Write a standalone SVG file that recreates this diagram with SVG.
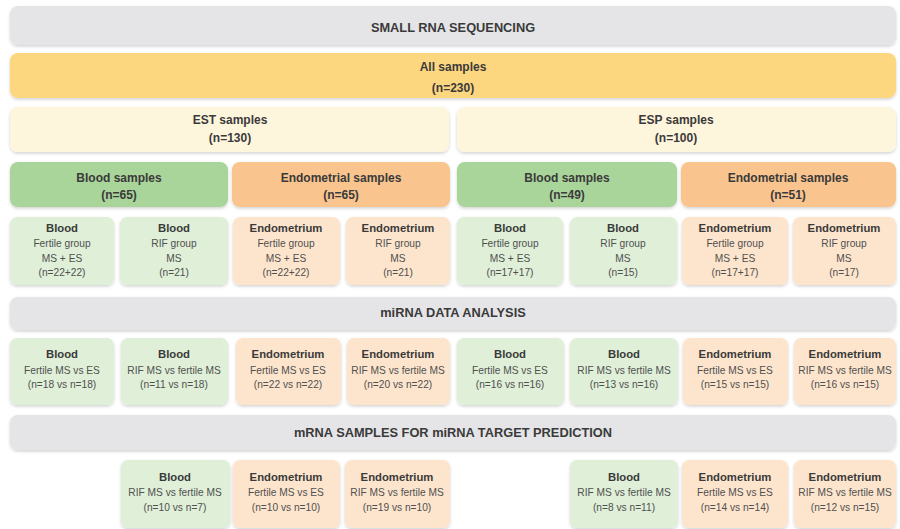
<svg xmlns="http://www.w3.org/2000/svg" width="900" height="529" viewBox="0 0 900 529">
<defs>
<filter id="sh" x="-5%" y="-20%" width="110%" height="140%">
<feDropShadow dx="0" dy="1.5" stdDeviation="1.5" flood-color="#000" flood-opacity="0.18"/>
</filter>
<style>
rect{filter:url(#sh)}
.gray{fill:#E5E5E8}
.all{fill:#FDD680}
.grp{fill:#FEF5DD}
.bl{fill:#A9D49A}
.en{fill:#F9C48E}
.lbl{fill:#DFEFD8}
.len{fill:#FDE5CD}
text{font-family:"Liberation Sans",Arial,sans-serif;text-anchor:middle;fill:#3a3a3a}
.h{font-weight:bold;font-size:12.8px}
.t{font-weight:bold;font-size:12px}
.b{font-weight:bold;font-size:11.3px}
.r{font-size:10.2px;fill:#505050}
</style>
</defs>
<rect width="900" height="529" fill="#fff" style="filter:none"/>
<g id="connectors"/>
<g id="small-rna-sequencing"><rect class="gray" x="10" y="6" width="886" height="39" rx="8"/><text class="h" x="453" y="32">SMALL RNA SEQUENCING</text></g>
<g id="all-samples"><rect class="all" x="10" y="53" width="886" height="45" rx="8"/><text class="t" x="453" y="71">All samples</text><text class="t" x="453" y="92">(n=230)</text></g>
<g id="est-samples"><rect class="grp" x="10" y="107" width="439" height="45" rx="8"/><text class="t" x="230" y="124">EST samples</text><text class="t" x="230" y="142">(n=130)</text></g>
<g id="esp-samples"><rect class="grp" x="457" y="107" width="439" height="45" rx="8"/><text class="t" x="676" y="124">ESP samples</text><text class="t" x="676" y="142">(n=100)</text></g>

<g id="est-blood-samples"><rect class="bl" x="10" y="162" width="218" height="45" rx="8"/><text class="t" x="119" y="182">Blood samples</text><text class="t" x="119" y="199">(n=65)</text></g>
<g id="est-endometrial-samples"><rect class="en" x="232" y="162" width="218" height="45" rx="8"/><text class="t" x="341" y="182">Endometrial samples</text><text class="t" x="341" y="199">(n=65)</text></g>
<g id="esp-blood-samples"><rect class="bl" x="457" y="162" width="220" height="45" rx="8"/><text class="t" x="567" y="182">Blood samples</text><text class="t" x="567" y="199">(n=49)</text></g>
<g id="esp-endometrial-samples"><rect class="en" x="681" y="162" width="215" height="45" rx="8"/><text class="t" x="788" y="182">Endometrial samples</text><text class="t" x="788" y="199">(n=51)</text></g>

<g id="est-blood-fertile"><rect class="lbl" x="10" y="217" width="104" height="68" rx="7"/><text class="b" x="62" y="232">Blood</text><text class="r" x="62" y="247">Fertile group</text><text class="r" x="62" y="262">MS + ES</text><text class="r" x="62" y="276">(n=22+22)</text></g>
<g id="est-blood-rif"><rect class="lbl" x="120" y="217" width="108" height="68" rx="7"/><text class="b" x="174" y="232">Blood</text><text class="r" x="174" y="247">RIF group</text><text class="r" x="174" y="262">MS</text><text class="r" x="174" y="276">(n=21)</text></g>
<g id="est-endo-fertile"><rect class="len" x="233" y="217" width="107" height="68" rx="7"/><text class="b" x="286" y="232">Endometrium</text><text class="r" x="286" y="247">Fertile group</text><text class="r" x="286" y="262">MS + ES</text><text class="r" x="286" y="276">(n=22+22)</text></g>
<g id="est-endo-rif"><rect class="len" x="346" y="217" width="104" height="68" rx="7"/><text class="b" x="398" y="232">Endometrium</text><text class="r" x="398" y="247">RIF group</text><text class="r" x="398" y="262">MS</text><text class="r" x="398" y="276">(n=21)</text></g>
<g id="esp-blood-fertile"><rect class="lbl" x="457" y="217" width="106" height="68" rx="7"/><text class="b" x="510" y="232">Blood</text><text class="r" x="510" y="247">Fertile group</text><text class="r" x="510" y="262">MS + ES</text><text class="r" x="510" y="276">(n=17+17)</text></g>
<g id="esp-blood-rif"><rect class="lbl" x="570" y="217" width="107" height="68" rx="7"/><text class="b" x="623" y="232">Blood</text><text class="r" x="623" y="247">RIF group</text><text class="r" x="623" y="262">MS</text><text class="r" x="623" y="276">(n=15)</text></g>
<g id="esp-endo-fertile"><rect class="len" x="682" y="217" width="106" height="68" rx="7"/><text class="b" x="735" y="232">Endometrium</text><text class="r" x="735" y="247">Fertile group</text><text class="r" x="735" y="262">MS + ES</text><text class="r" x="735" y="276">(n=17+17)</text></g>
<g id="esp-endo-rif"><rect class="len" x="793" y="217" width="103" height="68" rx="7"/><text class="b" x="844" y="232">Endometrium</text><text class="r" x="844" y="247">RIF group</text><text class="r" x="844" y="262">MS</text><text class="r" x="844" y="276">(n=17)</text></g>

<g id="mirna-data-analysis"><rect class="gray" x="10" y="297" width="886" height="33" rx="8"/><text class="h" x="453" y="317">miRNA DATA ANALYSIS</text></g>

<g id="a-est-blood-fertile"><rect class="lbl" x="10" y="338" width="104" height="67" rx="7"/><text class="b" x="62" y="358">Blood</text><text class="r" x="62" y="374">Fertile MS vs ES</text><text class="r" x="62" y="388">(n=18 vs n=18)</text></g>
<g id="a-est-blood-rif"><rect class="lbl" x="121" y="338" width="107" height="67" rx="7"/><text class="b" x="174" y="358">Blood</text><text class="r" x="174" y="374">RIF MS vs fertile MS</text><text class="r" x="174" y="388">(n=11 vs n=18)</text></g>
<g id="a-est-endo-fertile"><rect class="len" x="236" y="338" width="105" height="67" rx="7"/><text class="b" x="288" y="358">Endometrium</text><text class="r" x="288" y="374">Fertile MS vs ES</text><text class="r" x="288" y="388">(n=22 vs n=22)</text></g>
<g id="a-est-endo-rif"><rect class="len" x="347" y="338" width="103" height="67" rx="7"/><text class="b" x="398" y="358">Endometrium</text><text class="r" x="398" y="374">RIF MS vs fertile MS</text><text class="r" x="398" y="388">(n=20 vs n=22)</text></g>
<g id="a-esp-blood-fertile"><rect class="lbl" x="457" y="338" width="107" height="67" rx="7"/><text class="b" x="510" y="358">Blood</text><text class="r" x="510" y="374">Fertile MS vs ES</text><text class="r" x="510" y="388">(n=16 vs n=16)</text></g>
<g id="a-esp-blood-rif"><rect class="lbl" x="570" y="338" width="108" height="67" rx="7"/><text class="b" x="624" y="358">Blood</text><text class="r" x="624" y="374">RIF MS vs fertile MS</text><text class="r" x="624" y="388">(n=13 vs n=16)</text></g>
<g id="a-esp-endo-fertile"><rect class="len" x="683" y="338" width="105" height="67" rx="7"/><text class="b" x="735" y="358">Endometrium</text><text class="r" x="735" y="374">Fertile MS vs ES</text><text class="r" x="735" y="388">(n=15 vs n=15)</text></g>
<g id="a-esp-endo-rif"><rect class="len" x="794" y="338" width="102" height="67" rx="7"/><text class="b" x="845" y="358">Endometrium</text><text class="r" x="845" y="374">RIF MS vs fertile MS</text><text class="r" x="845" y="388">(n=16 vs n=15)</text></g>

<g id="mrna-samples"><rect class="gray" x="10" y="415" width="886" height="35" rx="8"/><text class="h" x="453" y="437">mRNA SAMPLES FOR miRNA TARGET PREDICTION</text></g>

<g id="m-est-blood-rif"><rect class="lbl" x="121" y="460" width="109" height="68" rx="7"/><text class="b" x="175" y="481">Blood</text><text class="r" x="175" y="496">RIF MS vs fertile MS</text><text class="r" x="175" y="511">(n=10 vs n=7)</text></g>
<g id="m-est-endo-fertile"><rect class="len" x="233" y="460" width="107" height="68" rx="7"/><text class="b" x="286" y="481">Endometrium</text><text class="r" x="286" y="496">Fertile MS vs ES</text><text class="r" x="286" y="511">(n=10 vs n=10)</text></g>
<g id="m-est-endo-rif"><rect class="len" x="345" y="460" width="105" height="68" rx="7"/><text class="b" x="397" y="481">Endometrium</text><text class="r" x="397" y="496">RIF MS vs fertile MS</text><text class="r" x="397" y="511">(n=19 vs n=10)</text></g>
<g id="m-esp-blood-rif"><rect class="lbl" x="570" y="460" width="108" height="68" rx="7"/><text class="b" x="624" y="481">Blood</text><text class="r" x="624" y="496">RIF MS vs fertile MS</text><text class="r" x="624" y="511">(n=8 vs n=11)</text></g>
<g id="m-esp-endo-fertile"><rect class="len" x="682" y="460" width="106" height="68" rx="7"/><text class="b" x="735" y="481">Endometrium</text><text class="r" x="735" y="496">Fertile MS vs ES</text><text class="r" x="735" y="511">(n=14 vs n=14)</text></g>
<g id="m-esp-endo-rif"><rect class="len" x="794" y="460" width="102" height="68" rx="7"/><text class="b" x="845" y="481">Endometrium</text><text class="r" x="845" y="496">RIF MS vs fertile MS</text><text class="r" x="845" y="511">(n=12 vs n=15)</text></g>
</svg>
